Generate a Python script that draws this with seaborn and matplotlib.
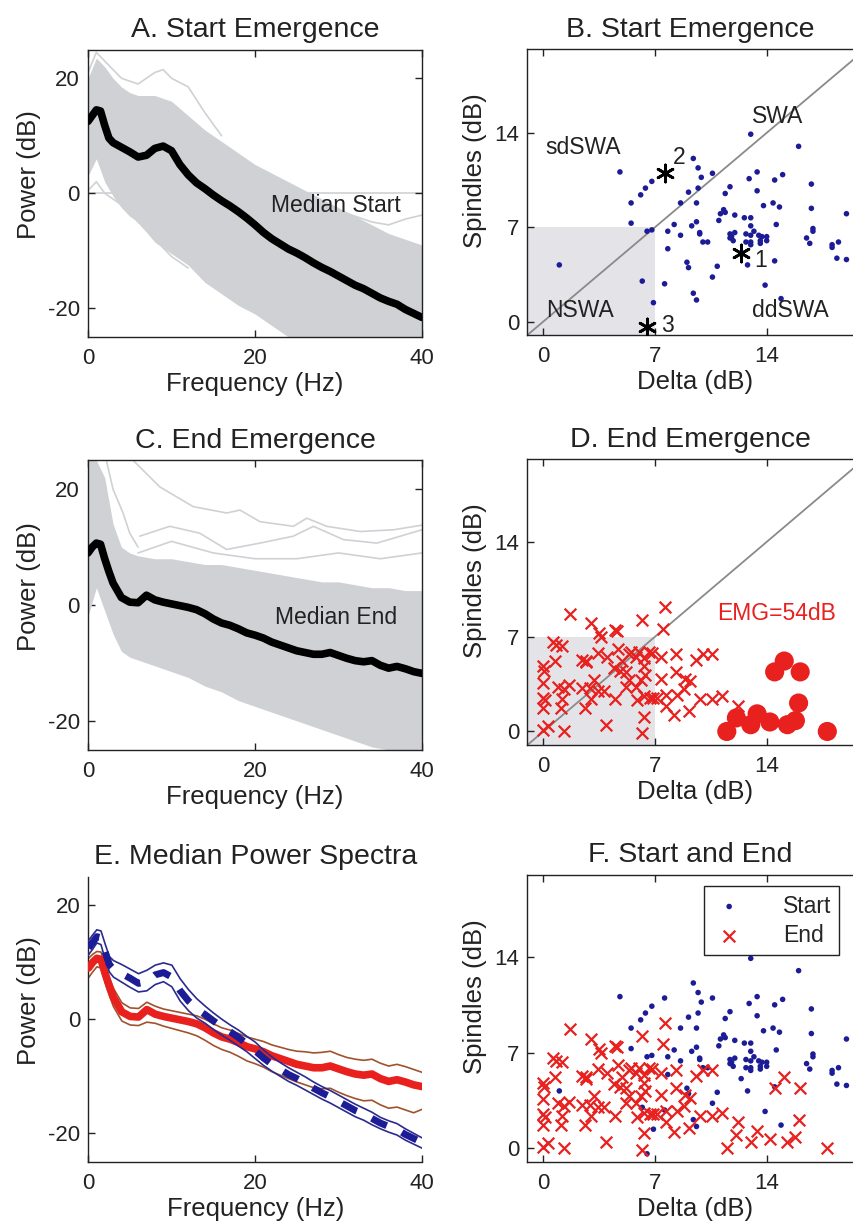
import numpy as np
import pandas as pd
import matplotlib
matplotlib.use("Agg")
import matplotlib.pyplot as plt
import seaborn as sns

# ---------------- data ----------------
FREQ = [0, 0.5, 1, 1.5, 2, 2.5, 3, 4, 5, 6, 7, 8, 9, 10, 11, 12, 13, 14, 15, 16, 17, 18, 19, 20,
        21, 22, 23, 24, 25, 26, 27, 28, 29, 30, 31, 32, 33, 34, 35, 36, 37, 38, 39, 40]
MED_START = [12.5, 13.5, 14.5, 14.3, 11.8, 9.6, 8.8, 8.0, 7.2, 6.3, 6.6, 7.8, 8.2, 7.4, 5.0, 3.2, 1.8, 0.8,
             -0.3, -1.3, -2.2, -3.2, -4.3, -5.5, -6.8, -7.9, -8.8, -9.7, -10.4, -11.2, -12.1, -12.9, -13.6,
             -14.4, -15.2, -16.0, -16.6, -17.4, -18.2, -18.8, -19.3, -20.2, -20.9, -21.6]
START_HI = [13.8, 14.8, 15.7, 15.5, 13.2, 11.0, 10.3, 9.6, 8.8, 8.0, 8.6, 9.5, 9.9, 9.5, 7.1, 5.2, 3.6, 2.3,
            1.1, 0.0, -1.0, -1.9, -3.0, -4.0, -5.4, -6.6, -7.6, -8.5, -9.3, -10.1, -11.0, -11.8, -12.5,
            -13.3, -14.1, -14.9, -15.6, -16.3, -17.2, -17.8, -18.3, -19.2, -20.0, -20.8]
START_LO = [11.3, 12.3, 13.4, 13.1, 10.5, 8.3, 7.4, 6.5, 5.6, 4.8, 5.0, 6.1, 6.6, 5.7, 3.2, 1.5, 0.2, -0.7,
            -1.8, -2.8, -3.7, -4.7, -5.7, -6.9, -8.1, -9.1, -10.0, -10.9, -11.6, -12.4, -13.2, -14.0, -14.7,
            -15.5, -16.3, -17.1, -17.7, -18.5, -19.2, -19.8, -20.3, -21.2, -21.9, -22.6]
MED_END = [9.0, 10.0, 10.7, 10.5, 8.0, 5.8, 3.8, 1.3, 0.5, 0.4, 1.7, 0.9, 0.5, 0.2, -0.1, -0.4, -0.8, -1.5,
           -2.4, -3.1, -3.5, -4.1, -4.8, -5.2, -5.7, -6.4, -6.9, -7.4, -7.9, -8.2, -8.5, -8.5, -8.2,
           -8.7, -9.2, -9.6, -9.8, -9.6, -10.4, -10.9, -10.6, -11.0, -11.5, -11.8]
END_HI = [10.7, 11.4, 11.9, 11.8, 9.5, 7.3, 5.4, 2.9, 2.0, 1.9, 3.0, 2.3, 1.8, 1.5, 1.2, 0.9, 0.6, 0.0,
          -0.8, -1.5, -1.9, -2.5, -3.1, -3.5, -3.9, -4.5, -4.9, -5.3, -5.6, -5.7, -5.9, -5.8, -5.6,
          -6.2, -6.7, -7.0, -7.2, -7.0, -7.7, -8.2, -7.9, -8.3, -8.8, -9.3]
END_LO = [7.3, 8.3, 9.2, 9.0, 6.4, 4.2, 2.2, -0.3, -1.0, -1.1, -0.5, -0.7, -1.2, -1.6, -2.0, -2.4, -2.9, -3.7,
          -4.6, -5.3, -5.8, -6.5, -7.3, -7.8, -8.4, -9.2, -9.8, -10.4, -11.0, -11.5, -12.0, -12.2, -12.1,
          -12.8, -13.4, -13.9, -14.3, -14.2, -15.0, -15.6, -15.4, -15.9, -16.4, -15.8]

# envelope of the individual (gray) spectra
ENV_F = [0, 1, 2, 3, 4, 5, 6, 8, 10, 12, 14, 16, 18, 20, 22, 24, 26, 28, 30, 32, 34, 36, 38, 40]
A_UP = [20, 23.5, 22, 20, 18.5, 17.5, 17, 17, 16, 13.5, 11, 9, 7, 5, 3.5, 2, 0.5, -1, -2.5, -4, -5.5, -7, -8, -9]
A_LO = [3, 6, 2, -0.5, -2.5, -4, -5, -8.5, -10.5, -12.5, -15.5, -17.5, -19.5, -21, -23, -25, -26, -27, -28,
        -28.5, -29, -29.5, -30, -30]
C_UP = [25, 25, 22, 14, 10, 9, 8.5, 8, 8, 7.5, 7, 7, 6.5, 6, 5.5, 5, 4.5, 4, 4, 3.5, 3, 3, 2.5, 2.5]
C_LO = [-2, 3, -1, -5, -8, -9, -9.5, -10.5, -11.5, -12.5, -14, -15, -16.5, -17.5, -18.5, -19.5, -20.5, -21.5,
        -22.5, -23.5, -24.5, -25, -26, -27]
# a few individual outlying spectra
A_OUT = [
    ([0, 1, 2, 4, 6, 8, 9, 10, 12, 14, 16], [21, 24.5, 23, 20, 19, 21, 21.5, 20, 18.5, 14, 10]),
    ([0, 1, 2, 4, 6, 8, 10, 12], [0.5, 2, 0, -2, -5, -8, -11, -13]),
    ([26, 28, 30, 32, 34, 36, 38, 40], [-1, -2, -3, -4, -5, -5.5, -4.5, -3.8]),
    ([28, 30, 32, 34, 36, 38, 40], [-5, -6, -7, -9, -11, -11, -10]),
]
C_OUT = [
    ([5.4, 8.6, 12.6, 16.6, 18.2, 20.6, 24.6, 26.2, 28.6, 32.6, 36.6, 40],
     [25, 20.4, 17, 15.9, 16.4, 14.4, 13.6, 15, 13.6, 12.7, 13, 13.8]),
    ([2.2, 3, 4.2, 5, 6], [25, 20, 15.9, 12.4, 10]),
    ([6.2, 9.8, 13.4, 16.6, 20.6, 24.6, 27, 30.6, 34.6, 40], [11.9, 13.6, 12.4, 9.6, 10.7, 11.9, 13.6, 11.3, 10.7, 13]),
    ([6, 10, 15, 20, 25, 30, 35, 40], [9, 11, 9, 8, 8, 9, 8, 9]),
]

START_DELTA = [1.0, 4.8, 5.5, 6.1, 6.4, 6.8, 5.5, 6.5, 6.8, 6.2, 6.9, 7.6, 7.8, 8.2, 8.6, 7.8, 8.6, 9.1, 9.4,
               9.7, 9.9, 9.7, 10.6, 9.6, 9.6, 9.3, 9.8, 9.8, 10.0, 10.3, 9.0, 9.1, 9.4, 9.6, 10.6, 10.9,
               11.0, 11.1, 11.3, 11.4, 11.4, 11.7, 11.7, 11.7, 11.9, 12.0, 12.0, 12.6, 13.0, 13.0, 12.7,
               12.7, 13.0, 13.0, 13.2, 13.0, 13.5, 13.6, 13.7, 14.0, 14.0, 13.6, 12.8, 14.5, 13.9, 14.9,
               14.6, 13.8, 14.4, 14.8, 13.4, 12.9, 13.4, 14.5, 15.0, 13.0, 16.0, 16.8, 16.8, 16.9, 16.9,
               16.5, 16.7, 18.1, 18.1, 18.5, 18.4, 19.0, 19.0, 11.8,
               12.4, 7.6, 6.5]
START_SPINDLE = [4.2, 11.1, 8.8, 9.4, 9.9, 10.4, 7.3, 6.7, 6.8, 3.0, 1.4, 2.8, 6.7, 7.2, 6.4, 5.4, 8.8, 9.6,
                 12.1, 11.4, 10.7, 9.9, 11.0, 8.8, 7.4, 7.1, 6.6, 6.5, 5.9, 5.9, 4.4, 4.0, 2.1, 1.6, 3.3,
                 4.1, 7.5, 8.0, 8.3, 8.1, 9.5, 10.0, 6.5, 6.2, 6.0, 6.6, 7.9, 7.7, 7.7, 7.1, 6.5, 5.9, 5.9,
                 6.4, 6.7, 5.7, 6.4, 6.0, 6.3, 6.3, 6.0, 5.8, 4.2, 4.5, 2.7, 1.7, 7.2, 8.6, 8.8, 8.5, 9.7,
                 10.6, 11.1, 10.5, 10.9, 13.9, 13.0, 10.2, 8.4, 6.9, 6.7, 6.2, 5.8, 5.7, 5.5, 5.9, 4.7,
                 4.6, 8.0, 6.3,
                 5.1, 11.0, -0.4]
STAR_LABELS = ["1", "2", "3"]  # the last three start points are the marked examples

END_DELTA = [1.7, 7.6, 7.5, 6.2, 3.0, 3.5, 3.6, 4.5, 4.6, 0.6, 0.8, 1.2, 0.7, 0.0, 0.05, 0.0, 0.0, 0.1, 0.0,
             1.1, 0.3, 0.0, 1.3, 3.9, 6.2, 6.3, 2.6, 3.0, 2.7, 2.4, 2.7, 3.4, 4.0, 4.7, 4.9, 4.4, 4.8, 5.2,
             5.4, 5.8, 6.0, 6.3, 6.6, 6.8, 6.3, 6.4, 5.4, 5.2, 5.8, 6.1, 5.9, 6.3, 6.7, 4.5, 3.4, 3.8,
             2.9, 2.4, 1.6, 1.3, 0.9, 7.4, 8.3, 9.6, 10.0, 10.6, 8.3, 7.4, 8.9, 9.2, 8.8, 7.7, 8.4, 6.9,
             7.1, 7.7, 8.2, 9.1, 9.8, 10.6, 11.2, 12.2, 3.2, 1.2, 5.5]
END_SPINDLE = [8.7, 9.2, 7.6, 8.2, 8.0, 7.3, 7.0, 7.5, 7.4, 6.6, 6.4, 6.3, 5.2, 4.8, 4.5, 3.6, 2.5, 2.3, 1.7,
               1.7, 0.4, 0.1, 0.0, 0.5, -0.1, 1.1, 1.7, 2.4, 5.2, 5.3, 5.1, 5.8, 5.5, 6.1, 5.2, 4.7, 4.5,
               4.4, 5.7, 5.5, 5.9, 5.4, 5.9, 5.8, 4.8, 4.2, 3.8, 3.3, 3.3, 3.8, 2.3, 2.6, 2.5, 2.4, 3.0,
               3.0, 3.2, 3.2, 3.4, 3.1, 3.3, 5.5, 5.7, 5.3, 5.7, 5.7, 4.4, 3.9, 3.9, 3.7, 3.1, 2.7, 2.7,
               2.5, 2.5, 1.9, 1.2, 1.5, 2.4, 2.4, 2.6, 1.9, 3.8, 2.4, 5.9]
EMG_DELTA = [11.5, 12.1, 13.0, 13.4, 14.2, 14.5, 15.1, 16.1, 16.0, 15.8, 15.3, 17.8]
EMG_SPINDLE = [0.0, 1.0, 0.5, 1.3, 0.7, 4.4, 5.2, 4.4, 2.1, 0.8, 0.5, 0.0]

SPEC_TICKS_X = [0, 20, 40]
SPEC_TICKS_Y = [-20, 0, 20]
SCAT_TICKS = [0, 7, 14]

# ---------------- style ----------------
sns.set_style("ticks")
plt.rcParams["font.family"] = ["Liberation Sans", "DejaVu Sans"]
plt.rcParams["axes.unicode_minus"] = False
plt.rcParams["axes.linewidth"] = 1.0

BLUE = "#1c1c96"
RED = "#e8201e"
BROWN = "#a0522d"
GRAY = "#cfd1d4"
TXT = "#222222"

W, H = 854, 1224
fig = plt.figure(figsize=(W / 100, H / 100), dpi=100)


def pos(l, t, r, b):
    return [l / W, 1 - b / H, (r - l) / W, (b - t) / H]


TITLE_FS, LABEL_FS, TICK_FS, TEXT_FS = 20.5, 18.5, 16, 16.5


def style(ax, title, xlabel, ylabel, box=True, xticks=None, yticks=None, label_y=0.565):
    ax.set_title(title, fontsize=TITLE_FS, color=TXT, pad=9)
    ax.set_xlabel(xlabel, fontsize=LABEL_FS, color=TXT, labelpad=2)
    ax.set_ylabel(ylabel, fontsize=LABEL_FS, color=TXT, labelpad=5)
    ax.yaxis.label.set_y(label_y)
    ax.set_xticks(xticks)
    ax.set_yticks(yticks)
    ax.tick_params(direction="in", labelsize=TICK_FS, colors=TXT, length=5, width=1,
                   top=box, right=box)
    ax.tick_params(axis="x", pad=8)
    ax.tick_params(axis="y", pad=6)
    for s in ax.spines.values():
        s.set_color("#222222")
        s.set_linewidth(1.0)
    if not box:
        ax.spines["top"].set_visible(False)
        ax.spines["right"].set_visible(False)


def spectra_panel(ax, up, lo, outs, med, label, title, zero_line):
    ax.fill_between(ENV_F, lo, up, color=GRAY, lw=0, zorder=1)
    for fx, fy in outs:
        sns.lineplot(x=fx, y=fy, ax=ax, color=GRAY, lw=1.2, zorder=1)
    if zero_line:
        ax.axhline(0, color=GRAY, lw=1.2, zorder=0.5)
    sns.lineplot(x=FREQ, y=med, ax=ax, color="black", lw=5.5, zorder=3,
                 solid_capstyle="round")
    ax.text(29.7, -2.2, label, fontsize=TEXT_FS, color=TXT, ha="center", va="center", zorder=4)
    ax.set_xlim(0, 40)
    ax.set_ylim(-25, 25)
    style(ax, title, "Frequency (Hz)", "Power (dB)", True, SPEC_TICKS_X, SPEC_TICKS_Y)


def scatter_frame(ax, title, ymax):
    ax.set_xlim(-1, 20)
    ax.set_ylim(-1, ymax)
    style(ax, title, "Delta (dB)", "Spindles (dB)", True, SCAT_TICKS, SCAT_TICKS, label_y=0.577)


# ---- A ----
axA = fig.add_axes(pos(88, 49.5, 422, 337))
spectra_panel(axA, A_UP, A_LO, A_OUT, MED_START, "Median Start", "A. Start Emergence", True)

# ---- C ----
axC = fig.add_axes(pos(88, 460.3, 422, 749.8))
spectra_panel(axC, C_UP, C_LO, C_OUT, MED_END, "Median End", "C. End Emergence", False)

# ---- B ----
axB = fig.add_axes(pos(527.4, 49.3, 862.4, 335))
axB.fill_between([-1, 7], [-1, -1], [7, 7], color="#e4e4e8", lw=0, zorder=0)
axB.plot([-1, 21], [-1, 21], color="#8a8a8a", lw=1.3, zorder=1)
sns.scatterplot(x=START_DELTA[:-3], y=START_SPINDLE[:-3], ax=axB, color=BLUE, s=16,
                edgecolor="none", zorder=3, legend=False)
sns.scatterplot(x=START_DELTA[-3:], y=START_SPINDLE[-3:], ax=axB, color="black", s=150,
                marker=(6, 2, 0), linewidth=2.0, zorder=4, legend=False)
for lab, dx, dy in zip(STAR_LABELS, [13.6, 8.5, 7.8], [4.55, 12.2, -0.26]):
    axB.text(dx, dy, lab, fontsize=TEXT_FS, color=TXT, ha="center", va="center", zorder=5)
for lab, dx, dy in [("SWA", 14.7, 15.2), ("sdSWA", 2.5, 12.9), ("NSWA", 2.3, 0.8), ("ddSWA", 15.5, 0.85)]:
    axB.text(dx, dy, lab, fontsize=TEXT_FS, color=TXT, ha="center", va="center", zorder=5)
scatter_frame(axB, "", 20.2)
axB.set_title("B. Start Emergence", fontsize=TITLE_FS, color=TXT, pad=9,
              x=(690 - 527.4) / 335.0)

# ---- D ----
axD = fig.add_axes(pos(527.4, 459.3, 862.4, 745))
axD.fill_between([-1, 7], [-1, -1], [7, 7], color="#e4e4e8", lw=0, zorder=0)
axD.plot([-1, 21], [-1, 21], color="#8a8a8a", lw=1.3, zorder=1)
sns.scatterplot(x=END_DELTA, y=END_SPINDLE, ax=axD, color=RED, s=70, marker="x",
                linewidth=1.6, zorder=3, legend=False)
sns.scatterplot(x=EMG_DELTA, y=EMG_SPINDLE, ax=axD, color=RED, s=190, edgecolor="none",
                zorder=3, legend=False)
axD.text(14.6, 8.7, "EMG=54dB", fontsize=TEXT_FS, color=RED, ha="center", va="center")
scatter_frame(axD, "", 20.1)
axD.set_title("D. End Emergence", fontsize=TITLE_FS, color=TXT, pad=9,
              x=(690 - 527.4) / 335.0)

# ---- E ----
axE = fig.add_axes(pos(88.5, 876.8, 422, 1161.8))
for arr in (END_HI, END_LO):
    sns.lineplot(x=FREQ, y=arr, ax=axE, color=BROWN, lw=1.2, zorder=2)
sns.lineplot(x=FREQ, y=MED_END, ax=axE, color=RED, lw=5.5, zorder=3)
for arr in (START_HI, START_LO):
    sns.lineplot(x=FREQ, y=arr, ax=axE, color="#2b2b8f", lw=1.2, zorder=4)
sns.lineplot(x=FREQ, y=MED_START, ax=axE, color=BLUE, lw=5, zorder=5,
             linestyle=(0, (2.4, 2.4)))
axE.set_xlim(0, 40)
axE.set_ylim(-25, 25)
style(axE, "E. Median Power Spectra", "Frequency (Hz)", "Power (dB)", False,
      SPEC_TICKS_X, SPEC_TICKS_Y)

# ---- F ----
axF = fig.add_axes(pos(527.4, 875, 862.4, 1162))
sns.scatterplot(x=START_DELTA, y=START_SPINDLE, ax=axF, color=BLUE, s=16, edgecolor="none",
                zorder=3, label="Start")
sns.scatterplot(x=END_DELTA + EMG_DELTA, y=END_SPINDLE + EMG_SPINDLE, ax=axF, color=RED, s=70,
                marker="x", linewidth=1.6, zorder=3, label="End")
scatter_frame(axF, "", 20.0)
axF.set_title("F. Start and End", fontsize=TITLE_FS, color=TXT, pad=9,
              x=(690 - 527.4) / 335.0)
leg = axF.legend(loc="upper left", bbox_to_anchor=(0.527, 0.96), borderaxespad=0,
                 fontsize=TEXT_FS, frameon=True, fancybox=False, framealpha=1,
                 edgecolor="#222222", handletextpad=1.6, borderpad=0.35, labelspacing=0.3,
                 handlelength=1.5)
leg.get_frame().set_linewidth(1.0)

fig.savefig("out.png", dpi=100)
